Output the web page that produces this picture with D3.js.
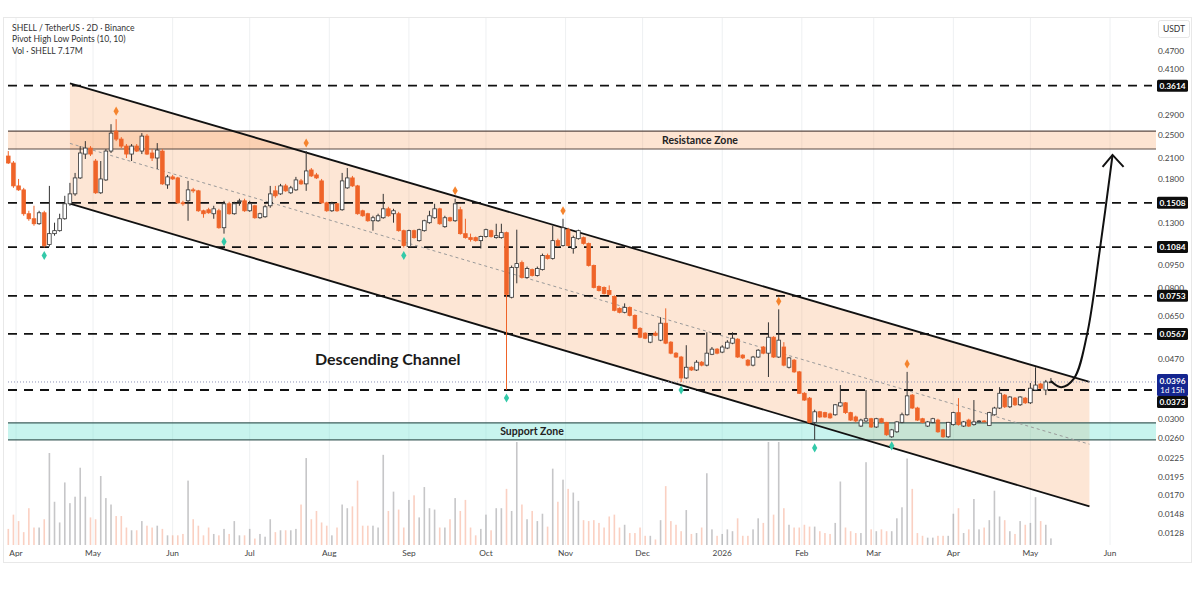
<!DOCTYPE html>
<html><head><meta charset="utf-8">
<script src="https://cdn.jsdelivr.net/npm/d3@7"></script>
<style>html,body{margin:0;padding:0;background:#fff;} svg{display:block;font-family:Lato,"Open Sans",sans-serif;}</style>
</head><body><svg id="c" width="1200" height="603"></svg>
<script>
// ---------------- DATA ----------------
const startDate = "2025-03-29"; // first 2D candle, each next one 2 days later
const open = [.2138,.2030,.1711,.1661,.1390,.1339,.1290,.1400,.1104,.1198,
.1225,.1339,.1497,.1612,.1816,.2170,.2269,.2060,.1625,.1789,
.2219,.2575,.2426,.2303,.2170,.2303,.2219,.2481,.2187,.2107,
.2219,.1724,.1830,.1816,.1508,.1531,.1661,.1649,.1421,.1432,
.1390,.1421,.1252,.1497,.1390,.1520,.1531,.1421,.1475,.1349,
.1359,.1475,.1649,.1612,.1711,.1625,.1661,.1776,.1737,.1927,
.1857,.1776,.1508,.1421,.1497,.1432,.1686,.1816,.1711,.1421,
.1390,.1319,.1319,.1349,.1442,.1390,.1390,.1225,.1088,.1225,
.1137,.1225,.1300,.1349,.1442,.1262,.1349,.1319,.1432,.1198,
.1163,.1163,.1137,.1172,.1225,.1163,.1163,.1207,.0745,.0930,
.0965,.0864,.0916,.0877,.0916,.1017,.0995,.1137,.1096,.1234,
.1072,.1154,.1163,.1113,.0944,.0808,.0802,.0784,.0750,.0686,
.0666,.0691,.0651,.0591,.0570,.0533,.0570,.0541,.0614,.0533,
.0491,.0477,.0408,.0442,.0433,.0459,.0449,.0487,.0506,.0495,
.0510,.0529,.0545,.0484,.0466,.0449,.0477,.0514,.0491,.0553,
.0477,.0514,.0442,.0466,.0427,.0364,.0351,.0293,.0317,.0315,
.0312,.0310,.0331,.0339,.0315,.0305,.0285,.0296,.0301,.0283,
.0301,.0293,.0263,.0273,.0293,.0310,.0359,.0326,.0301,.0285,
.0293,.0298,.0277,.0263,.0288,.0315,.0285,.0298,.0288,.0294,
.0296,.0286,.0310,.0326,.0359,.0329,.0351,.0334,.0351,.0339,
.0373,.0390,.0373,.0396];
const high = [.2219,.2060,.1802,.1686,.1421,.1475,.1421,.1421,.1711,.1300,
.1390,.1589,.1750,.1885,.2303,.2390,.2303,.2092,.2060,.2252,
.2712,.2815,.2462,.2338,.2338,.2338,.2537,.2518,.2252,.2355,
.2252,.1857,.1857,.1830,.1531,.1776,.1686,.1661,.1432,.1453,
.1475,.1442,.1531,.1520,.1520,.1555,.1555,.1531,.1486,.1400,
.1486,.1711,.1711,.1737,.1737,.1711,.1830,.1802,.2219,.1955,
.1885,.1802,.1520,.1520,.1508,.1885,.1955,.1843,.1724,.1432,
.1400,.1369,.1390,.1612,.1464,.1442,.1410,.1234,.1234,.1234,
.1243,.1329,.1421,.1497,.1453,.1369,.1359,.1555,.1464,.1339,
.1198,.1172,.1180,.1243,.1234,.1290,.1290,.1216,.0944,.1234,
.0980,.0937,.0923,.0937,.1032,.1032,.1271,.1154,.1339,.1252,
.1180,.1234,.1172,.1121,.0951,.0814,.0808,.0814,.0756,.0691,
.0712,.0696,.0656,.0596,.0574,.0566,.0578,.0642,.0686,.0537,
.0495,.0481,.0521,.0445,.0466,.0463,.0574,.0514,.0510,.0521,
.0541,.0574,.0549,.0487,.0470,.0481,.0506,.0518,.0618,.0557,
.0681,.0533,.0477,.0470,.0430,.0367,.0354,.0322,.0319,.0317,
.0315,.0336,.0387,.0341,.0317,.0308,.0301,.0373,.0303,.0303,
.0303,.0294,.0279,.0296,.0315,.0427,.0362,.0329,.0303,.0296,
.0303,.0301,.0279,.0294,.0317,.0351,.0296,.0301,.0346,.0298,
.0298,.0317,.0329,.0381,.0362,.0356,.0354,.0356,.0354,.0393,
.0442,.0393,.0402,.0408];
const low = [.2015,.1686,.1649,.1369,.1319,.1271,.1280,.1080,.1088,.1180,
.1216,.1329,.1475,.1589,.1802,.2092,.2138,.1612,.1612,.1776,
.2187,.2390,.2269,.2107,.2060,.2203,.2170,.2154,.2060,.1941,
.1724,.1674,.1789,.1497,.1475,.1319,.1625,.1410,.1349,.1390,
.1339,.1243,.1198,.1380,.1380,.1475,.1410,.1410,.1339,.1339,
.1349,.1453,.1566,.1601,.1637,.1612,.1649,.1724,.1649,.1830,
.1802,.1497,.1410,.1410,.1410,.1421,.1674,.1698,.1380,.1359,
.1309,.1225,.1309,.1339,.1359,.1300,.1216,.1080,.1080,.1154,
.1129,.1216,.1290,.1339,.1280,.1252,.1309,.1309,.1189,.1154,
.1129,.1129,.1072,.1163,.1163,.1154,.1154,.0373,.0739,.0827,
.0857,.0857,.0870,.0870,.0910,.0987,.0987,.1088,.1088,.1088,
.1032,.1146,.1104,.0937,.0796,.0778,.0761,.0756,.0671,.0661,
.0661,.0646,.0587,.0549,.0545,.0529,.0557,.0537,.0525,.0487,
.0474,.0396,.0405,.0430,.0430,.0445,.0445,.0484,.0487,.0491,
.0506,.0525,.0474,.0470,.0445,.0445,.0474,.0487,.0411,.0474,
.0474,.0445,.0438,.0424,.0362,.0344,.0291,.0257,.0303,.0303,
.0301,.0308,.0329,.0312,.0296,.0293,.0283,.0294,.0281,.0281,
.0291,.0265,.0261,.0271,.0291,.0308,.0324,.0296,.0291,.0283,
.0291,.0271,.0261,.0261,.0286,.0286,.0283,.0283,.0286,.0293,
.0293,.0285,.0308,.0324,.0326,.0326,.0331,.0331,.0336,.0336,
.0370,.0376,.0359,.0393];
const close = [.2030,.1711,.1661,.1390,.1339,.1290,.1400,.1096,.1198,.1225,
.1339,.1497,.1612,.1816,.2187,.2269,.2170,.1625,.1802,.2219,
.2537,.2426,.2303,.2170,.2303,.2219,.2481,.2170,.2107,.2236,
.1737,.1830,.1802,.1508,.1497,.1661,.1649,.1421,.1390,.1400,
.1442,.1252,.1497,.1390,.1497,.1531,.1421,.1497,.1349,.1390,
.1464,.1612,.1589,.1711,.1649,.1686,.1789,.1737,.1913,.1843,
.1816,.1508,.1421,.1497,.1421,.1776,.1816,.1711,.1390,.1369,
.1319,.1349,.1369,.1442,.1369,.1421,.1225,.1096,.1225,.1163,
.1234,.1319,.1369,.1442,.1290,.1349,.1319,.1497,.1198,.1163,
.1146,.1137,.1172,.1234,.1172,.1180,.1207,.0761,.0930,.0958,
.0864,.0923,.0877,.0923,.1017,.0995,.1137,.1096,.1252,.1096,
.1163,.1225,.1113,.0944,.0802,.0784,.0767,.0761,.0676,.0666,
.0691,.0651,.0591,.0553,.0549,.0561,.0561,.0614,.0529,.0491,
.0477,.0408,.0442,.0433,.0459,.0449,.0491,.0506,.0491,.0514,
.0533,.0549,.0477,.0474,.0449,.0477,.0502,.0491,.0553,.0477,
.0541,.0449,.0474,.0427,.0364,.0346,.0293,.0317,.0305,.0305,
.0303,.0334,.0339,.0315,.0298,.0296,.0298,.0301,.0283,.0301,
.0293,.0267,.0277,.0294,.0310,.0357,.0326,.0298,.0293,.0294,
.0301,.0273,.0263,.0293,.0315,.0288,.0294,.0285,.0294,.0296,
.0295,.0315,.0326,.0364,.0329,.0354,.0334,.0354,.0339,.0378,
.0387,.0378,.0396,.0396];
// volume in millions of SHELL
const volume = [17.5,33,26,14,40,19,19,28,100,47,
24.5,68,45.5,52.5,84,52.5,30,28,75,51,
44,31.5,31.5,19,16,16,26,21,19,21,
17.5,10.5,10.5,10.5,12,70,28,21,10.5,19,
12,10.5,17.5,12,26,10.5,10.5,17.5,7,12,
9,28,14,16,16,16,17.5,44,94.5,28,
37,24.5,21,10.5,19,44,40,42,70,21,
21,21,19,98,37,58,38.5,19,49,54,
30,63,40,38.5,19,19,28,51,37,49,
19,10.5,17.5,33,16,40,40,61,37,112,
44,28,37,26,34,20,83,47,71,61,
57,48,27,26,27,24,19,31,33,19,
22,13,13,19,10,10,6,27,64,26,
22,15,38,12,13,19,78,17,10,12,
17,15,29,10,10,17,29,24,112,33,
112,40,22,19,19,22,20,20,15,13,
12,24,69,19,15,13,13,90,17,15,
17,15,15,29,41,94,61,13,10,8,
8,10,10,10,34,40,13,17,50,17,
19,27,59,31,27,15,12,26,22,24,
52,26,22,7.17];

const pivotHighIdx = [21,58,87,108,150,175];
const pivotLowIdx = [7,42,77,97,131,157,172];
const levels = [0.3614,0.1508,0.1084,0.0753,0.0567,0.0373];
const priceTicks = [0.47,0.41,0.29,0.25,0.21,0.18,0.13,0.095,0.08,0.065,0.047,0.03,0.026,0.0225,0.0195,0.017,0.0148,0.0128];
const monthTicks = ["2025-04-01","2025-05-01","2025-06-01","2025-07-01","2025-08-01","2025-09-01","2025-10-01","2025-11-01","2025-12-01","2026-01-01","2026-02-01","2026-03-01","2026-04-01","2026-05-01","2026-06-01"];
const monthLabels = ["Apr","May","Jun","Jul","Aug","Sep","Oct","Nov","Dec","2026","Feb","Mar","Apr","May","Jun"];
const resistanceZone = [0.2253,0.2575];
const supportZone = [0.0257,0.0292];
const channelUpper = [["2025-04-22",0.368],["2026-05-24",0.0396]];
const channelLower = [["2025-04-22",0.150],["2026-05-24",0.01564]];
const lastPrice = 0.0396;
const countdown = "1d 15h";
const arrowPts = [["2026-05-09",0.0399],["2026-05-13",0.0381],["2026-05-18",0.0407],["2026-05-23",0.0561],["2026-05-28",0.1056],["2026-06-02",0.2156]];
const headerLines = ["SHELL / TetherUS · 2D · Binance","Pivot High Low Points (10, 10)","Vol · SHELL  7.17M"];

// ---------------- CHART ----------------
const svg = d3.select("#c");
const P = d => new Date(d + "T00:00:00Z");
const dates = open.map((_, i) => d3.utcDay.offset(P(startDate), 2 * i));
const x = d3.scaleUtc().domain([P("2025-04-01"), P("2026-06-01")]).range([16, 1110]);
const y = d3.scaleLog().domain([0.0128, 0.47]).range([533.3, 50.5]);
const yv = d3.scaleLinear().domain([0, 100]).range([545, 453]);
const L = 8, R = 1156, PR = 1152;

svg.append("rect").attr("width",1200).attr("height",603).attr("fill","#fff");
svg.append("rect").attr("x",3.5).attr("y",17.5).attr("width",1188).attr("height",545)
  .attr("fill","none").attr("stroke","#e8e8e8");

// grid
svg.append("g").selectAll("line").data(monthTicks).join("line")
  .attr("x1",d=>x(P(d))).attr("x2",d=>x(P(d))).attr("y1",18).attr("y2",545)
  .attr("stroke","#eef0f2").attr("stroke-width",1);

// channel fill
const up = channelUpper.map(d=>[x(P(d[0])), y(d[1])]);
const lo = channelLower.map(d=>[x(P(d[0])), y(d[1])]);
svg.append("path").attr("d", d3.line()([up[0], up[1], lo[1], lo[0]]) + "Z")
  .attr("fill","rgba(246,150,80,0.24)");

// zones
function zone(z, fill, stroke) {
  svg.append("rect").attr("x",L).attr("width",R-L).attr("y",y(z[1])).attr("height",y(z[0])-y(z[1]))
    .attr("fill",fill);
  svg.append("g").selectAll("line").data(z).join("line")
    .attr("x1",L).attr("x2",R).attr("y1",d=>y(d)).attr("y2",d=>y(d))
    .attr("stroke",stroke).attr("stroke-width",1.2);
}
zone(resistanceZone, "rgba(246,150,80,0.26)", "#5a4a44");
zone(supportZone, "rgba(110,225,210,0.38)", "#3f5f5c");

// channel lines
svg.append("line").attr("x1",up[0][0]).attr("y1",up[0][1]).attr("x2",up[1][0]).attr("y2",up[1][1])
  .attr("stroke","#111").attr("stroke-width",1.8);
svg.append("line").attr("x1",lo[0][0]).attr("y1",lo[0][1]).attr("x2",lo[1][0]).attr("y2",lo[1][1])
  .attr("stroke","#111").attr("stroke-width",1.8);
// midline (log midpoint)
const mid = channelUpper.map((d,i)=>[x(P(d[0])), y(Math.sqrt(d[1]*channelLower[i][1]))]);
svg.append("line").attr("x1",mid[0][0]).attr("y1",mid[0][1]).attr("x2",mid[1][0]).attr("y2",mid[1][1])
  .attr("stroke","#9a9a9a").attr("stroke-width",1).attr("stroke-dasharray","3,3");

// horizontal level lines
svg.append("g").selectAll("line").data(levels).join("line")
  .attr("x1",L).attr("x2",PR).attr("y1",d=>y(d)).attr("y2",d=>y(d))
  .attr("stroke","#111").attr("stroke-width",1.8).attr("stroke-dasharray","9,7");
// current price dotted line
svg.append("line").attr("x1",L).attr("x2",R).attr("y1",y(lastPrice)).attr("y2",y(lastPrice))
  .attr("stroke","#8e94b8").attr("stroke-width",1).attr("stroke-dasharray","1,2");

// volume
const isUp = i => close[i] >= open[i];
svg.append("g").selectAll("rect").data(volume).join("rect")
  .attr("x",(d,i)=>x(dates[i])-0.8).attr("width",1.6)
  .attr("y",d=>yv(d)).attr("height",d=>yv(0)-yv(d))
  .attr("fill",(d,i)=>isUp(i)?"rgba(120,120,125,0.42)":"rgba(240,120,80,0.35)");

// candles
const cw = 3.6;
const cg = svg.append("g");
open.forEach((o,i)=>{
  const cx = x(dates[i]);
  const col = isUp(i) ? "#333" : "#ef6429";
  cg.append("line").attr("x1",cx).attr("x2",cx).attr("y1",y(high[i])).attr("y2",y(low[i]))
    .attr("stroke",col).attr("stroke-width",1);
  const t = y(Math.max(o,close[i])), b = y(Math.min(o,close[i]));
  cg.append("rect").attr("x",cx-cw/2).attr("width",cw).attr("y",t).attr("height",Math.max(b-t,0.8))
    .attr("fill",isUp(i)?"#fff":"#ef6429").attr("stroke",col).attr("stroke-width",0.8);
});

// pivots
const diamond = d3.symbol().type(d3.symbolDiamond).size(24);
svg.append("g").selectAll("path").data(pivotHighIdx).join("path")
  .attr("d",diamond).attr("transform",i=>`translate(${x(dates[i])},${y(high[i])-8})`).attr("fill","#f5842e");
svg.append("g").selectAll("path").data(pivotLowIdx).join("path")
  .attr("d",diamond).attr("transform",i=>`translate(${x(dates[i])},${y(low[i])+8})`).attr("fill","#33c9a9");

// texts
svg.append("text").attr("x",700).attr("y",y(Math.sqrt(resistanceZone[0]*resistanceZone[1]))+4)
  .attr("text-anchor","middle").attr("font-size",10.5).attr("font-weight",700).attr("fill","#222").text("Resistance Zone");
svg.append("text").attr("x",532).attr("y",y(Math.sqrt(supportZone[0]*supportZone[1]))+4)
  .attr("text-anchor","middle").attr("font-size",10.5).attr("font-weight",700).attr("fill","#222").text("Support Zone");
svg.append("text").attr("x",315).attr("y",365).attr("font-size",16).attr("font-weight",700)
  .attr("fill","#1a1a1a").text("Descending Channel");
svg.append("g").selectAll("text").data(headerLines).join("text")
  .attr("x",12).attr("y",(d,i)=>30.5+i*11.5).attr("font-size",8.6).attr("fill","#333").text(d=>d);

// arrow
const ap = arrowPts.map(d=>[x(P(d[0])), y(d[1])]);
svg.append("path").attr("d", d3.line().curve(d3.curveCatmullRom.alpha(0.5))(ap))
  .attr("fill","none").attr("stroke","#111").attr("stroke-width",2);
const tip = ap[ap.length-1];
svg.append("path").attr("d",`M${tip[0]-10},${tip[1]+12}L${tip[0]},${tip[1]}L${tip[0]+11},${tip[1]+12}`)
  .attr("fill","none").attr("stroke","#111").attr("stroke-width",2);

// right axis
svg.append("rect").attr("x",1158.5).attr("y",20.5).attr("width",31).attr("height",17).attr("rx",2)
  .attr("fill","#fff").attr("stroke","#e6e6e6");
svg.append("text").attr("x",1174).attr("y",32).attr("text-anchor","middle").attr("font-size",8.5).attr("fill","#333").text("USDT");
svg.append("g").selectAll("text").data(priceTicks).join("text")
  .attr("x",1184).attr("y",d=>y(d)+3).attr("text-anchor","end").attr("font-size",8.3).attr("fill","#444")
  .text(d=>d.toFixed(4));

// last price box
const ly = y(lastPrice);
svg.append("rect").attr("x",1157).attr("y",ly-8).attr("width",31).attr("height",22).attr("rx",1.5).attr("fill","#14258f");
svg.append("text").attr("x",1172.5).attr("y",ly+2.5).attr("text-anchor","middle").attr("font-size",8.3).attr("font-weight",700).attr("fill","#fff").text(lastPrice.toFixed(4));
svg.append("text").attr("x",1172.5).attr("y",ly+11).attr("text-anchor","middle").attr("font-size",7.8).attr("fill","#fff").text(countdown);

// level boxes
const lb = svg.append("g");
levels.forEach(v=>{
  let cy = y(v);
  if (cy > ly - 14 && cy < ly + 20) cy = ly + 20;
  lb.append("rect").attr("x",1157).attr("y",cy-6).attr("width",31).attr("height",12).attr("rx",1.5).attr("fill","#0d0d0d");
  lb.append("text").attr("x",1172.5).attr("y",cy+3).attr("text-anchor","middle").attr("font-size",8.3).attr("font-weight",700).attr("fill","#fff").text(v.toFixed(4));
});

// x axis labels
svg.append("g").selectAll("text").data(monthTicks).join("text")
  .attr("x",d=>x(P(d))).attr("y",556).attr("text-anchor","middle").attr("font-size",8.3).attr("fill","#444")
  .text((d,i)=>monthLabels[i]);
</script></body></html>
